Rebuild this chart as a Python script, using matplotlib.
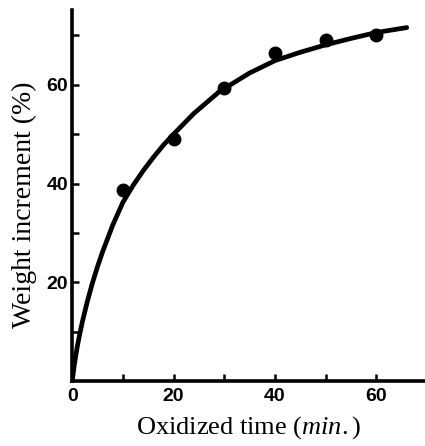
import matplotlib.pyplot as plt
from matplotlib.ticker import FixedLocator

# puntos medidos
tiempo = [10, 20, 30, 40, 50, 60]
incremento = [38.6, 49.0, 59.3, 66.4, 69.1, 70.1]

# curva ajustada
curva_x = [0, 0.4, 1, 1.5, 2, 3, 4, 5, 6, 8, 10, 12, 14, 16, 18, 20, 24, 29, 35, 40, 45, 50, 55, 60, 66]
curva_y = [0, 3.2, 7.0, 9.6, 12.0, 16.2, 19.9, 23.2, 26.2, 31.6, 36.2, 39.6, 42.6, 45.3, 47.8, 50.0,
           54.2, 58.6, 62.4, 64.9, 66.6, 68.1, 69.4, 70.6, 71.6]

plt.rcParams['font.family'] = ['Liberation Serif', 'DejaVu Serif']
plt.rcParams['mathtext.fontset'] = 'custom'
plt.rcParams['mathtext.it'] = 'Liberation Serif:italic'
plt.rcParams['mathtext.rm'] = 'Liberation Serif'

fig = plt.figure(figsize=(4.25, 4.46), dpi=100)
ax = fig.add_axes([0.17, 0.146, 0.83, 0.832])

ax.plot(curva_x, curva_y, color='black', lw=3.4, solid_capstyle='round', solid_joinstyle='round')
ax.plot(tiempo, incremento, 'o', color='black', markersize=9)

ax.set_xlim(0, 69.6)
ax.set_ylim(0, 75.2)

ax.spines['top'].set_visible(False)
ax.spines['right'].set_visible(False)
ax.spines['left'].set_linewidth(2.6)
ax.spines['bottom'].set_linewidth(2.6)

ax.xaxis.set_major_locator(FixedLocator([0, 20, 40, 60]))
ax.xaxis.set_minor_locator(FixedLocator([10, 30, 50]))
ax.yaxis.set_major_locator(FixedLocator([20, 40, 60]))
ax.yaxis.set_minor_locator(FixedLocator([10, 30, 50, 70]))

ax.tick_params(which='both', direction='in', length=5, width=1.8)
ax.tick_params(axis='x', pad=5)
ax.tick_params(axis='y', pad=3)
for lab in ax.get_xticklabels() + ax.get_yticklabels():
    lab.set_family(['Liberation Sans', 'DejaVu Sans'])
    lab.set_fontweight('bold')
    lab.set_fontsize(14)

ax.set_xlabel('Oxidized time ($\\mathit{min.}$)', fontsize=19, labelpad=7)
ax.set_ylabel('Weight increment (%)', fontsize=20)
ax.yaxis.set_label_coords(-0.1, 0.475)

plt.savefig('out.png', dpi=100)
